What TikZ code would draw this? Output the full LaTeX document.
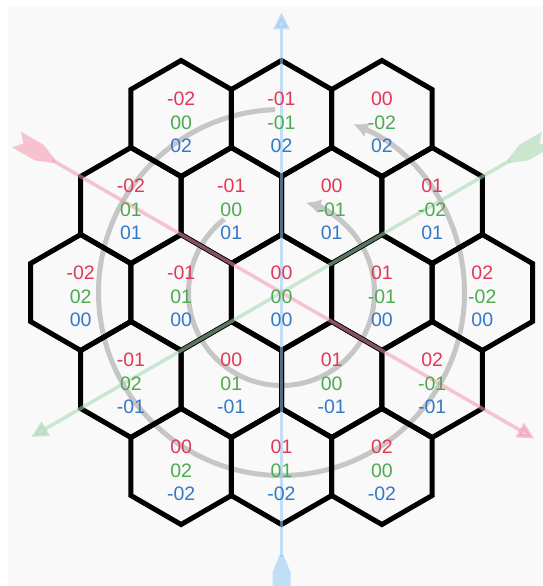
\documentclass[tikz,border=0pt]{standalone}
\usepackage{fontspec}
\setmainfont{Liberation Sans}
\usetikzlibrary{arrows.meta,calc}
\definecolor{qred}{RGB}{226,56,88}
\definecolor{rgreen}{RGB}{76,170,80}
\definecolor{sblue}{RGB}{52,120,200}
\definecolor{axblue}{RGB}{150,200,245}
\definecolor{axpink}{RGB}{245,150,175}
\definecolor{axgreen}{RGB}{165,215,175}
\definecolor{bggray}{RGB}{249,249,249}
\definecolor{arcgray}{RGB}{198,198,198}
\newcommand\hexfmt[1]{\ifnum#1<0 -0\the\numexpr-#1\relax\else 0#1\fi}
\begin{document}
\begin{tikzpicture}[x=1pt,y=-1pt,
  hexline/.style={line width=5pt, draw=black},
  axisline/.style={line width=3.5pt, opacity=0.55},
  fletch/.style={opacity=0.55},
  spiral/.style={draw=arcgray, line width=5pt, -{Latex[length=15pt,width=15pt]}},
  lbl/.style={inner sep=0pt, align=center, font=\fontsize{19.5pt}{23.5pt}\selectfont}]
\useasboundingbox (0,0) rectangle (543,586);
\clip (0,0) rectangle (543,586);
\fill[white] (0,0) rectangle (543,586);
\fill[bggray] (8,6) rectangle (543,586);
\coordinate (O) at (281.5,292.5);

% rotation arcs
\draw[spiral] ($(O)+(92:183pt)$) arc[start angle=92, end angle=427, radius=183pt];
\draw[spiral] ($(O)+(128:93pt)$) arc[start angle=128, end angle=435, radius=93pt];

% hexagons
\foreach \q/\r/\s in {-2/0/2,-1/-1/2,0/-2/2,
  -2/1/1,-1/0/1,0/-1/1,1/-2/1,
  -2/2/0,-1/1/0,0/0/0,1/-1/0,2/-2/0,
  -1/2/-1,0/1/-1,1/0/-1,2/-1/-1,
  0/2/-2,1/1/-2,2/0/-2}{
  \pgfmathsetmacro\cx{281.5+100.4*(\q+\s/2)}
  \pgfmathsetmacro\cy{292.5-87*\s}
  \draw[hexline] (\cx,\cy-58) -- (\cx+50.2,\cy-29) -- (\cx+50.2,\cy+29) -- (\cx,\cy+58) -- (\cx-50.2,\cy+29) -- (\cx-50.2,\cy-29) -- cycle;
}

% axes
\foreach \tail/\tip/\dist/\col in {270/90/280/axblue, 150/330/292/axpink, 30/210/289/axgreen}{
  \coordinate (t\tail) at ($(O)+(\tail:264pt)$);
  \coordinate (h\tail) at ($(O)+(\tip:\dist pt)$);
  \draw[axisline, draw=\col, -{Triangle[length=17pt,width=16pt]}] (t\tail) -- (h\tail);
  \begin{scope}[shift={(O)}, rotate=\tail]
    \fill[fletch, \col] (262,-1.8) -- (280,-9) -- (306,-9) -- (298,0) -- (306,9) -- (280,9) -- (262,1.8) -- cycle;
  \end{scope}
}

% labels
\foreach \q/\r/\s [count=\i] in {-2/0/2,-1/-1/2,0/-2/2,
  -2/1/1,-1/0/1,0/-1/1,1/-2/1,
  -2/2/0,-1/1/0,0/0/0,1/-1/0,2/-2/0,
  -1/2/-1,0/1/-1,1/0/-1,2/-1/-1,
  0/2/-2,1/1/-2,2/0/-2}{
  \pgfmathsetmacro\cx{281.5+100.4*(\q+\s/2)}
  \pgfmathsetmacro\cy{292.5-87*\s+4}
  \node[lbl] (hex\i) at (\cx,\cy) {\textcolor{qred}{\hexfmt{\q}}\\\textcolor{rgreen}{\hexfmt{\r}}\\\textcolor{sblue}{\hexfmt{\s}}};
}
\end{tikzpicture}
\end{document}
